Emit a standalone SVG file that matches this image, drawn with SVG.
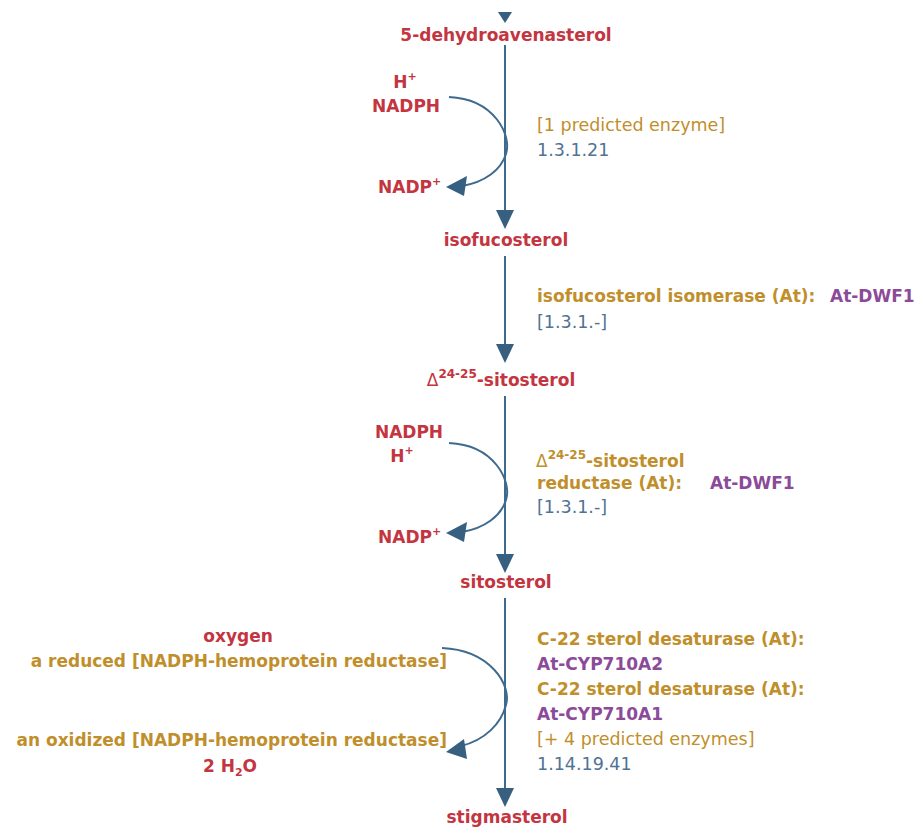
<svg xmlns="http://www.w3.org/2000/svg" width="915" height="828" viewBox="0 0 915 828">
<defs>
<style>
text{font-family:"DejaVu Sans",Verdana,sans-serif;font-size:17px}
.b{font-weight:bold}
.n{font-weight:normal}
.r{font-size:17.5px}
.red{fill:#c33540}
.gold{fill:#c08f2c}
.pur{fill:#8b4b98}
.ec{fill:#4f7393}
.ln{stroke:#3e6a8e;stroke-width:2;fill:none}
.hd{fill:#365f80}
.m{text-anchor:middle}
.e{text-anchor:end}
</style>
</defs>
<rect width="915" height="828" fill="#fff"/>
<g id="connectors">
<polygon class="hd" points="498,12 512,12 505,23"/>
<line class="ln" x1="505" y1="45" x2="505" y2="212"/>
<polygon class="hd" points="496,210 514,210 505,229"/>
<line class="ln" x1="505" y1="256" x2="505" y2="346"/>
<polygon class="hd" points="496,344 514,344 505,363"/>
<line class="ln" x1="505" y1="396" x2="505" y2="556"/>
<polygon class="hd" points="496,554 514,554 505,573"/>
<line class="ln" x1="505" y1="598" x2="505" y2="790"/>
<polygon class="hd" points="496,788 514,788 505,807"/>
<path class="ln" d="M449,97 C495,99 512,136 506,154 C501,170 485,182 462,186"/>
<polygon class="hd" points="446,187 467,176 464,196"/>
<path class="ln" d="M449,443 C495,445 512,482 506,500 C501,516 485,528 462,532"/>
<polygon class="hd" points="446,533 467,522 464,542"/>
<path class="ln" d="M442,648 C490,650 512,685 506,705 C501,724 485,740 461,746"/>
<polygon class="hd" points="446,752 464,739 467,759"/>
</g>
<g id="n-5-dehydroavenasterol"><text class="b red m" x="506" y="41">5-dehydroavenasterol</text></g>
<g id="n-isofucosterol"><text class="b red m" x="506" y="246">isofucosterol</text></g>
<g id="n-delta-sitosterol"><text class="b red m" x="501" y="386"><tspan class="n">Δ</tspan><tspan font-size="12" dy="-8">24-25</tspan><tspan dy="8">-sitosterol</tspan></text></g>
<g id="n-sitosterol"><text class="b red m" x="506" y="588">sitosterol</text></g>
<g id="n-stigmasterol"><text class="b red m" x="507" y="823">stigmasterol</text></g>
<g id="r1-side">
<text class="b red m" x="405" y="88">H<tspan font-size="11" dy="-8">+</tspan></text>
<text class="b red m" x="406" y="112">NADPH</text>
<text class="b red" x="378" y="193">NADP<tspan font-size="11" dy="-8">+</tspan></text>
</g>
<g id="r1-enzyme">
<text class="r gold" x="537" y="131">[1 predicted enzyme]</text>
<text class="r ec" x="537" y="156">1.3.1.21</text>
</g>
<g id="r2-enzyme">
<text class="b gold" x="537" y="302">isofucosterol isomerase (At):</text>
<text class="b pur" x="830" y="302">At-DWF1</text>
<text class="r ec" x="537" y="328">[1.3.1.-]</text>
</g>
<g id="r3-side">
<text class="b red m" x="409" y="438">NADPH</text>
<text class="b red m" x="402" y="462">H<tspan font-size="11" dy="-8">+</tspan></text>
<text class="b red" x="378" y="543">NADP<tspan font-size="11" dy="-8">+</tspan></text>
</g>
<g id="r3-enzyme">
<text class="b gold" x="536" y="467"><tspan class="n">Δ</tspan><tspan font-size="12" dy="-8">24-25</tspan><tspan dy="8">-sitosterol</tspan></text>
<text class="b gold" x="537" y="489">reductase (At):</text>
<text class="b pur" x="710" y="489">At-DWF1</text>
<text class="r ec" x="537" y="513">[1.3.1.-]</text>
</g>
<g id="r4-side">
<text class="b red m" x="238" y="642">oxygen</text>
<text class="b gold e" x="447" y="667">a reduced [NADPH-hemoprotein reductase]</text>
<text class="b gold e" x="447" y="746">an oxidized [NADPH-hemoprotein reductase]</text>
<text class="b red m" x="230" y="772">2 H<tspan font-size="11" dy="4">2</tspan><tspan dy="-4">O</tspan></text>
</g>
<g id="r4-enzyme">
<text class="b gold" x="537" y="645">C-22 sterol desaturase (At):</text>
<text class="b pur" x="537" y="670">At-CYP710A2</text>
<text class="b gold" x="537" y="695">C-22 sterol desaturase (At):</text>
<text class="b pur" x="537" y="720">At-CYP710A1</text>
<text class="r gold" x="537" y="745">[+ 4 predicted enzymes]</text>
<text class="r ec" x="537" y="770">1.14.19.41</text>
</g>
</svg>
